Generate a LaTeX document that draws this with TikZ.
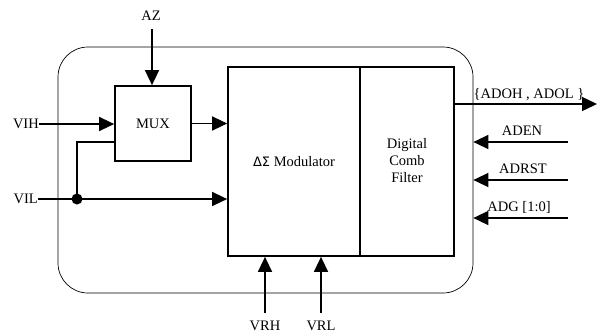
\documentclass[tikz,border=0pt]{standalone}
\usepackage{fontspec}
\setmainfont{Liberation Serif}
\newfontfamily\greekfont{DejaVu Sans}
\usetikzlibrary{arrows.meta}
\begin{document}
\begin{tikzpicture}[x=1pt,y=-1pt,
  blk/.style={draw,line width=1.7pt,inner sep=0pt},
  sig/.style={line width=1.4pt,-{Triangle[length=15pt,width=14pt]}},
  wire/.style={line width=1.4pt},
  lbl/.style={inner sep=0pt},
  every node/.style={font=\fontsize{14.5}{16}\selectfont}]
\useasboundingbox (0,0) rectangle (597,333);
% outer rounded frame
\node[draw,line width=0.7pt,rounded corners=30pt,minimum width=415pt,minimum height=246pt,inner sep=0pt] (frame) at (265.5,170) {};
% blocks
\node[blk,minimum width=132pt,minimum height=189pt] (mod) at (294,161.5) {};
\node[blk,minimum width=94pt,minimum height=189pt] (filt) at (407,161.5) {};
\node[blk,minimum width=76pt,minimum height=75pt] (mux) at (153,123.5) {MUX};
\node[lbl] (modtxt) at (294,162) {{\greekfont\fontsize{13}{15}\selectfont ΔΣ} Modulator};
\node[lbl,align=center,font=\fontsize{14.5}{17}\selectfont] (filttxt) at (407,161) {Digital\\Comb\\Filter};
% labels
\node[lbl] (az) at (151,16) {AZ};
\node[lbl,anchor=east] (vih) at (39,124) {VIH};
\node[lbl,anchor=east] (vil) at (38,199) {VIL};
\node[lbl] (vrh) at (265,326) {VRH};
\node[lbl] (vrl) at (321,326) {VRL};
\node[lbl] (ado) at (529,95) {\{ADOH , ADOL \}};
\node[lbl] (aden) at (522,131) {ADEN};
\node[lbl] (adrst) at (523,169) {ADRST};
\node[lbl] (adg) at (519,207) {ADG [1:0]};
% coordinates
\coordinate (azs) at (152,29);
\coordinate (outE) at (597,104);
\coordinate (adenS) at (568,142);
\coordinate (adrstS) at (568,180);
\coordinate (adgS) at (568,218);
\coordinate (vrhS) at (265,313);
\coordinate (vrlS) at (321,313);
\coordinate (dot) at (77,199);
% connectors
\draw[sig] (azs) -- (azs |- mux.north);
\draw[sig] (vih.east) -- (vih.east -| mux.west);
\draw[sig] (mux.east) -- (mux.east -| mod.west);
\draw[wire] (115,142) -- (77,142) -- (dot);
\draw[sig] (vil.east) -- (vil.east -| mod.west);
\fill (dot) circle (5.5pt);
\draw[sig] (filt.east |- outE) -- (outE);
\draw[sig] (adenS) -- (adenS -| frame.east);
\draw[sig] (adrstS) -- (adrstS -| frame.east);
\draw[sig] (adgS) -- (adgS -| frame.east);
\draw[sig] (vrhS) -- (vrhS |- mod.south);
\draw[sig] (vrlS) -- (vrlS |- mod.south);
\end{tikzpicture}
\end{document}
